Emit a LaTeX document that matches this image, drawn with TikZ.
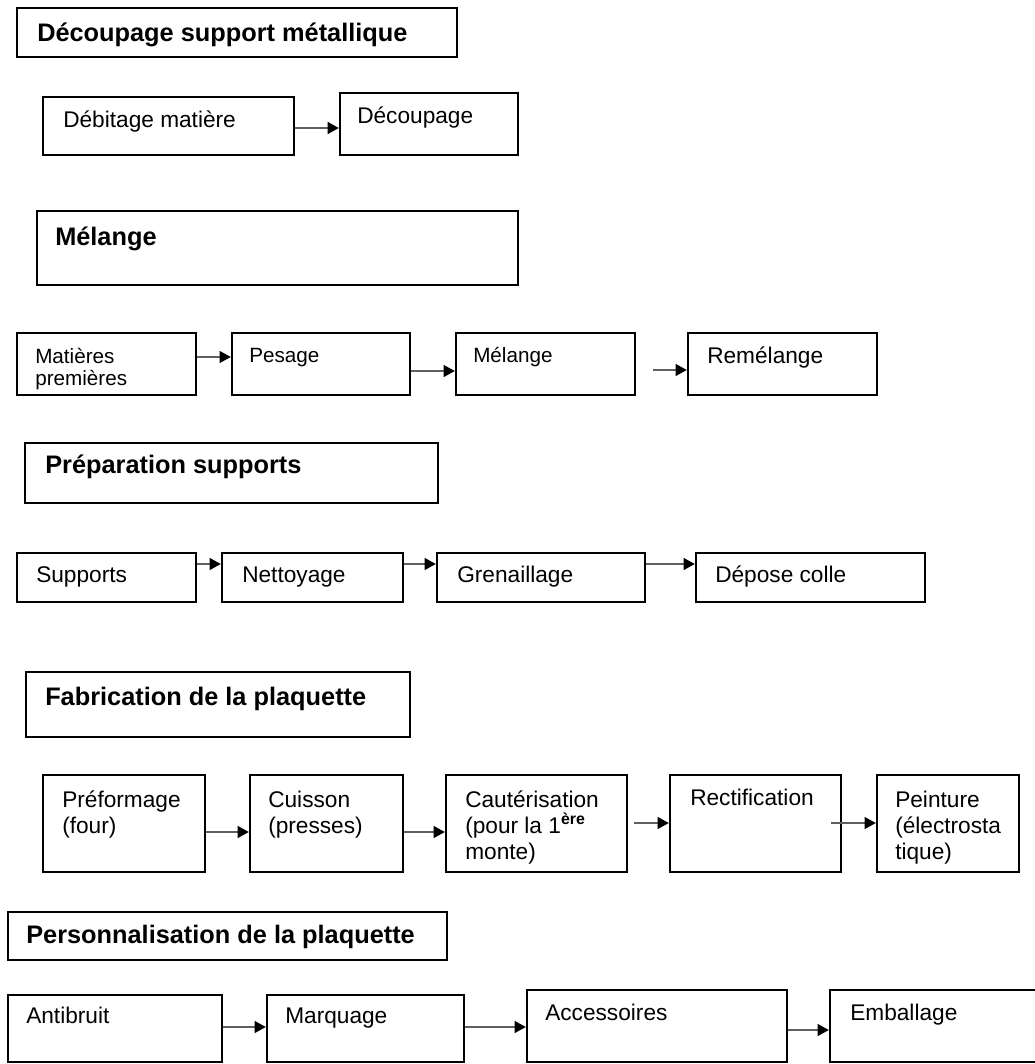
\documentclass[tikz,border=0pt]{standalone}
\usepackage{fontspec}
\setmainfont{Liberation Sans}
\usetikzlibrary{arrows.meta,fit,calc}
\definecolor{shaft}{RGB}{95,95,95}
\begin{document}
\begin{tikzpicture}[x=0.75pt,y=-0.75pt,
  box/.style={draw=black,line width=1.5pt,inner sep=0pt},
  ttl/.style={anchor=base west,inner sep=0pt,font=\fontsize{19}{22}\selectfont\bfseries},
  txt/.style={anchor=base west,inner sep=0pt,align=left,font=\fontsize{17}{19.5}\selectfont},
  txtsm/.style={anchor=base west,inner sep=0pt,align=left,font=\fontsize{15.5}{16.5}\selectfont},
  arr/.style={draw=shaft,line width=2.2pt,-{Triangle[length=8.5pt,width=8.5pt,color=black,fill=black]}}]
\useasboundingbox (0,0) rectangle (1035,1064);

% Row 1
\node[box,fit={(17,8) (457,57)}] (t1) {};
\node[ttl] (t1t) at (37,41) {Découpage support métallique};
\node[box,fit={(43,97) (294,155)}] (b11) {};
\node[txt] (b11t) at (63,127) {Débitage matière};
\node[box,fit={(340,93) (518,155)}] (b12) {};
\node[txt] (b12t) at (357,123) {Découpage};
\draw[arr] (b11.east |- 0,128) -- (b12.west |- 0,128);

% Row 2
\node[box,fit={(37,211) (518,285)}] (t2) {};
\node[ttl] (t2t) at (55,245) {Mélange};
\node[box,fit={(17,333) (196,395)}] (b21) {};
\node[txtsm] (b21t) at (35,385) {Matières\\premières};
\node[box,fit={(232,333) (410,395)}] (b22) {};
\node[txtsm] (b22t) at (249,362) {Pesage};
\node[box,fit={(456,333) (635,395)}] (b23) {};
\node[txtsm] (b23t) at (473,362) {Mélange};
\node[box,fit={(688,333) (877,395)}] (b24) {};
\node[txt] (b24t) at (707,363) {Remélange};
\draw[arr] (b21.east |- 0,357) -- (b22.west |- 0,357);
\draw[arr] (b22.east |- 0,371) -- (b23.west |- 0,371);
\draw[arr] ($(b23.east |- 0,370)+(17,0)$) -- (b24.west |- 0,370);

% Row 3
\node[box,fit={(25,443) (438,503)}] (t3) {};
\node[ttl] (t3t) at (45,473) {Préparation supports};
\node[box,fit={(17,553) (196,602)}] (b31) {};
\node[txt] (b31t) at (36,582) {Supports};
\node[box,fit={(222,553) (403,602)}] (b32) {};
\node[txt] (b32t) at (242,582) {Nettoyage};
\node[box,fit={(437,553) (645,602)}] (b33) {};
\node[txt] (b33t) at (457,582) {Grenaillage};
\node[box,fit={(696,553) (925,602)}] (b34) {};
\node[txt] (b34t) at (715,582) {Dépose colle};
\draw[arr] (b31.east |- 0,564) -- (b32.west |- 0,564);
\draw[arr] (b32.east |- 0,564) -- (b33.west |- 0,564);
\draw[arr] (b33.east |- 0,564) -- (b34.west |- 0,564);

% Row 4
\node[box,fit={(26,672) (410,737)}] (t4) {};
\node[ttl] (t4t) at (45,705) {Fabrication de la plaquette};
\node[box,fit={(43,775) (205,872)}] (b41) {};
\node[txt] (b41t) at (62,833) {Préformage\\(four)};
\node[box,fit={(250,775) (403,872)}] (b42) {};
\node[txt] (b42t) at (268,833) {Cuisson\\(presses)};
\node[box,fit={(446,775) (627,872)}] (b43) {};
\node[txt] (b43t) at (465,859) {Cautérisation\\(pour la 1\textsuperscript{\textbf{ère}}\\monte)};
\node[box,fit={(670,775) (841,872)}] (b44) {};
\node[txt] (b44t) at (690,805) {Rectification};
\node[box,fit={(877,775) (1019,872)}] (b45) {};
\node[txt] (b45t) at (895,859) {Peinture\\(électrosta\\tique)};
\draw[arr] (b41.east |- 0,832) -- (b42.west |- 0,832);
\draw[arr] (b42.east |- 0,832) -- (b43.west |- 0,832);
\draw[arr] ($(b43.east |- 0,823)+(6,0)$) -- (b44.west |- 0,823);
\draw[arr] ($(b44.east |- 0,823)+(-11,0)$) -- (b45.west |- 0,823);

% Row 5
\node[box,fit={(8,912) (447,960)}] (t5) {};
\node[ttl] (t5t) at (26,943) {Personnalisation de la plaquette};
\node[box,fit={(8,995) (222,1062)}] (b51) {};
\node[txt] (b51t) at (26,1023) {Antibruit};
\node[box,fit={(267,995) (464,1062)}] (b52) {};
\node[txt] (b52t) at (285,1023) {Marquage};
\node[box,fit={(527,990) (787,1062)}] (b53) {};
\node[txt] (b53t) at (545,1020) {Accessoires};
\node[box,fit={(830,990) (1045,1062)}] (b54) {};
\node[txt] (b54t) at (850,1020) {Emballage};
\draw[arr] (b51.east |- 0,1027) -- (b52.west |- 0,1027);
\draw[arr] (b52.east |- 0,1027) -- (b53.west |- 0,1027);
\draw[arr] (b53.east |- 0,1030) -- (b54.west |- 0,1030);
\end{tikzpicture}
\end{document}
